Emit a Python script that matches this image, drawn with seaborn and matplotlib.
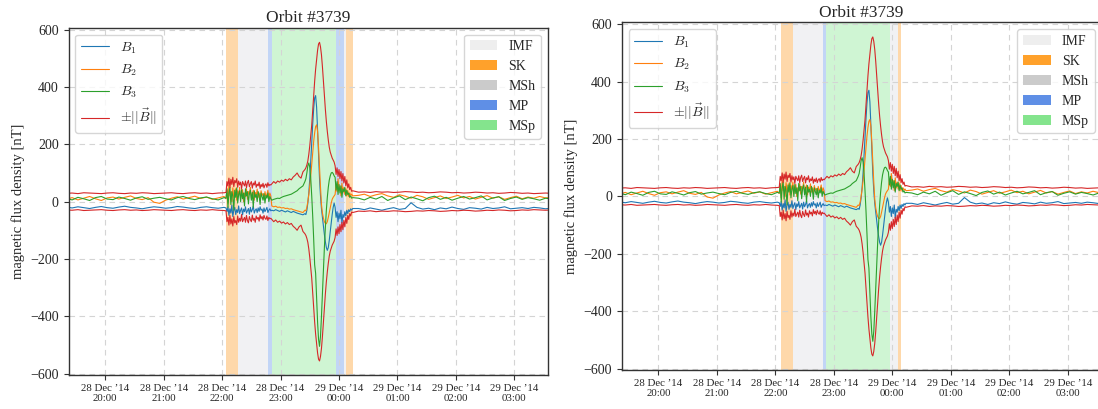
import numpy as np
import pandas as pd
import matplotlib
matplotlib.use("Agg")
import matplotlib.pyplot as plt
import matplotlib.dates as mdates
from matplotlib.patches import Patch
from matplotlib.lines import Line2D
import seaborn as sns

# sampling segments: start time, step in minutes
seg_start = ["2014-12-28 19:20", "2014-12-28 22:04", "2014-12-28 22:51",
             "2014-12-28 23:26", "2014-12-28 23:56", "2014-12-29 00:20"]
seg_step = [6, 1, 2, 1, 1, 6]

# B1 per segment [nT]
b1_segs = [
    [-19, -22, -18, -21, -24, -20, -17, -21, -23, -19, -16, -20, -22, -25, -21, -18, -20, -23, -21, -17,
     -19, -22, -24, -20, -18, -21, -23, -20],
    [-22, -35, -18, -48, -25, -40, -12, -52, -30, -20, -45, -28, -38, -15, -42, -30, -22, -46, -26, -35,
     -18, -40, -32, -24, -44, -20, -36, -28, -15, -40, -30, -25, -38, -22, -34, -18, -30, -26, -40, -22,
     -35, -28, -20, -38, -30, -25, -32],
    [-30, -32, -28, -31, -34, -30, -33, -36, -32, -35, -38, -34, -37, -40, -42, -44, -46, -42],
    [-45, -30, -5, 30, 80, 140, 205, 270, 325, 362, 370, 330, 250, 160, 80, 20, -25, -55, -85, -115,
     -140, -160, -170, -160, -135, -105, -75, -45, -20, -5],
    [-20, -55, -35, -70, -40, -60, -30, -75, -45, -55, -35, -50, -30, -42, -28, -35, -25, -30, -24],
    [-24, -28, -22, -26, -30, -25, -21, -27, -24, -4, -20, -26, -23, -28, -22, -25, -19, -24, -27, -21,
     -23, -26, -20, -24, -22, -18, -25, -23, -21, -24, -20, -22, -25, -23],
]
# B2 per segment [nT]
b2_segs = [
    [8, 14, 6, 12, 18, 10, 4, 13, 16, 9, 15, 20, 11, 7, 14, -2, -6, 5, 12, 17, 9, 14, 19, 11, 16, 8, 13, 18],
    [10, 40, -5, 55, 20, 35, 0, 48, 15, 30, 45, 5, 38, 22, 50, 10, 25, 42, 0, 30,
     18, 45, 8, 35, 25, 50, 12, 28, 40, 5, 32, 20, 44, 15, 30, 10, 38, 22, 28, 8,
     35, 18, 25, 40, 12, 30, 20],
    [-15, -18, -16, -20, -19, -22, -21, -24, -23, -26, -25, -28, -30, -32, -34, -36, -38, -30],
    [-32, -20, 0, 25, 55, 90, 130, 170, 210, 240, 262, 268, 245, 190, 120, 50, -10, -40, -58, -70,
     -76, -77, -70, -55, -38, -20, -5, 8, 15, 20],
    [25, 60, 35, 80, 40, 55, 20, 65, 30, 50, 25, 45, 20, 38, 18, 30, 22, 26, 20],
    [22, 26, 18, 24, 28, 20, 15, 24, 19, 12, 22, 17, 8, 14, 20, 11, 16, 22, 13, 18,
     9, 15, 21, 12, 17, 8, 14, 19, 10, 16, 12, 18, 13, 15],
]
# B3 per segment [nT]
b3_segs = [
    [12, 6, 15, 10, 4, 14, 18, 9, 7, 16, 11, 5, 13, 17, 8, 12, 15, 10, 6, 14, 18, 11, 7, 13, 16, 10, 6, 14],
    [12, 45, -20, 30, 50, -10, 35, 20, -30, 40, 15, 48, -5, 25, 38, 0, 42, 10, 30, -15,
     45, 20, 35, -8, 28, 40, 5, 32, -20, 38, 15, 25, 0, 35, 22, -10, 30, 18, 5, 28,
     -5, 22, 12, 30, 0, 18, 10],
    [5, 8, 10, 12, 11, 15, 18, 20, 22, 24, 26, 30, 34, 38, 45, 50, 55, 70],
    [80, 100, 125, 135, 120, 80, 20, -50, -130, -220, -250, -340, -420, -480, -505, -470, -400, -320, -240, -160,
     -90, -30, 15, 50, 75, 90, 100, 102, 98, 90],
    [85, 40, 70, 25, 60, 30, 55, 15, 45, 35, 50, 20, 40, 25, 30, 15, 20, 12, 14],
    [12, 6, 15, 9, 18, 4, 13, 20, 7, 16, 10, 3, 14, 19, 8, 15, 5, 12, 18, 9,
     14, 20, 6, 13, 17, 4, 11, 16, 8, 14, 10, 5, 12, 9],
]
# |B| per segment [nT]
bn_segs = [
    [29, 30, 28, 31, 30, 29, 28, 30, 31, 29, 28, 30, 29, 31, 30, 28, 29, 30, 31, 29, 28, 30, 31, 29, 30, 28, 30, 31],
    [32, 70, 55, 82, 48, 78, 60, 85, 52, 74, 66, 80, 50, 72, 58, 68, 45, 70, 62, 55,
     72, 48, 66, 74, 52, 63, 70, 47, 65, 58, 72, 50, 61, 55, 68, 46, 60, 52, 64, 48,
     58, 62, 50, 66, 55, 60, 58],
    [62, 70, 64, 72, 68, 75, 71, 78, 73, 80, 76, 86, 92, 100, 88, 82, 104, 112],
    [118, 128, 142, 165, 195, 232, 267, 320, 368, 420, 462, 495, 528, 550, 556, 540, 512, 470, 420, 370,
     322, 280, 245, 215, 190, 173, 162, 152, 145, 138],
    [125, 95, 118, 88, 112, 80, 105, 72, 98, 65, 88, 55, 76, 48, 62, 42, 50, 36, 38],
    [33, 34, 32, 35, 33, 34, 32, 33, 35, 34, 32, 33, 31, 32, 34, 33, 31, 32, 30, 31,
     33, 32, 30, 31, 29, 30, 32, 31, 29, 30, 28, 29, 30, 29],
]

# region bands per panel
left_band_labels = ["SK", "IMF", "MP", "MSp", "MP", "IMF", "SK"]
left_band_start = ["2014-12-28 22:04:30", "2014-12-28 22:16", "2014-12-28 22:47:30", "2014-12-28 22:51",
                   "2014-12-28 23:56:30", "2014-12-29 00:05", "2014-12-29 00:07"]
left_band_end = ["2014-12-28 22:16", "2014-12-28 22:47:30", "2014-12-28 22:51", "2014-12-28 23:56:30",
                 "2014-12-29 00:05", "2014-12-29 00:07", "2014-12-29 00:14"]
right_band_labels = ["SK", "IMF", "MP", "MSp", "IMF", "SK"]
right_band_start = ["2014-12-28 22:05:30", "2014-12-28 22:18", "2014-12-28 22:48:30", "2014-12-28 22:52",
                    "2014-12-28 23:58", "2014-12-29 00:05:30"]
right_band_end = ["2014-12-28 22:18", "2014-12-28 22:48:30", "2014-12-28 22:52", "2014-12-28 23:58",
                  "2014-12-29 00:05:30", "2014-12-29 00:09"]

region_names = ["IMF", "SK", "MSh", "MP", "MSp"]
legend_colors = {"IMF": "#eeeeee", "SK": "#ffa12b", "MSh": "#cbcbcb", "MP": "#5f8fe6", "MSp": "#84e48d"}
band_colors = {"IMF": "#f1f1f3", "SK": "#fed8aa", "MSh": "#e6e6e6", "MP": "#c2d5f6", "MSp": "#cff5d3"}

# build the table
frames = []
for s, st, b1, b2, b3, bn in zip(seg_start, seg_step, b1_segs, b2_segs, b3_segs, bn_segs):
    assert len(b1) == len(b2) == len(b3) == len(bn), s
    t = pd.date_range(s, periods=len(b1), freq=f"{st}min")
    frames.append(pd.DataFrame({"time": t, "B1": b1, "B2": b2, "B3": b3, "Bn": bn}))
df = pd.concat(frames, ignore_index=True)
df["negBn"] = -df["Bn"]

sns.set_style("ticks")
plt.rcParams['font.family'] = ['Liberation Serif', 'DejaVu Serif']
plt.rcParams['mathtext.fontset'] = 'cm'

fig = plt.figure(figsize=(10.98, 4.09), dpi=100)
ax1 = fig.add_axes([0.0624, 0.0831, 0.4368, 0.8492])
ax2 = fig.add_axes([0.5662, 0.0954, 0.4370, 0.8501])

xlim = (pd.Timestamp("2014-12-28 19:22:20"), pd.Timestamp("2014-12-29 03:34:40"))
series = [("B1", "#1f77b4", r"$B_1$"), ("B2", "#ff7f0e", r"$B_2$"),
          ("B3", "#2ca02c", r"$B_3$"), ("Bn", "#d62728", r"$\pm||\vec{B}||$")]

for ax, labs, starts, ends in [(ax1, left_band_labels, left_band_start, left_band_end),
                               (ax2, right_band_labels, right_band_start, right_band_end)]:
    for lab, a, b in zip(labs, starts, ends):
        ax.axvspan(pd.Timestamp(a), pd.Timestamp(b), color=band_colors[lab], lw=0, zorder=0.2)

    for col, c, lab in series:
        sns.lineplot(data=df, x="time", y=col, color=c, lw=0.8, ax=ax, estimator=None, legend=False)
    sns.lineplot(data=df, x="time", y="negBn", color="#d62728", lw=0.8, ax=ax,
                 estimator=None, legend=False)

    ax.set_xlim(xlim)
    ax.set_ylim(-605, 607)
    ax.set_yticks([-600, -400, -200, 0, 200, 400, 600])
    ax.xaxis.set_major_locator(mdates.HourLocator())
    ax.xaxis.set_major_formatter(mdates.DateFormatter("%d %b ’%y\n%H:%M"))
    ax.set_axisbelow(True)
    ax.grid(True, ls=(0, (5, 4)), color="#d4d4d4", lw=0.8)
    for sp in ax.spines.values():
        sp.set_visible(True)
        sp.set_color("#333333")
        sp.set_linewidth(1.0)
    ax.tick_params(axis="x", labelsize=7.8, length=3.5, color="#333333", pad=3)
    ax.tick_params(axis="y", labelsize=10, length=3.5, color="#333333")
    ax.set_xlabel("")
    ax.set_ylabel("magnetic flux density [nT]", fontsize=10.5)
    ax.set_title("Orbit #3739", fontsize=12.5, pad=4)

    line_handles = [Line2D([], [], color=c, lw=0.8, label=lab) for _, c, lab in series]
    leg1 = ax.legend(handles=line_handles, loc="upper left", fontsize=10, handlelength=2.0)
    ax.add_artist(leg1)
    patches = [Patch(facecolor=legend_colors[n], edgecolor="none", label=n) for n in region_names]
    ax.legend(handles=patches, loc="upper right", fontsize=10)

fig.savefig("out.png", dpi=100)
